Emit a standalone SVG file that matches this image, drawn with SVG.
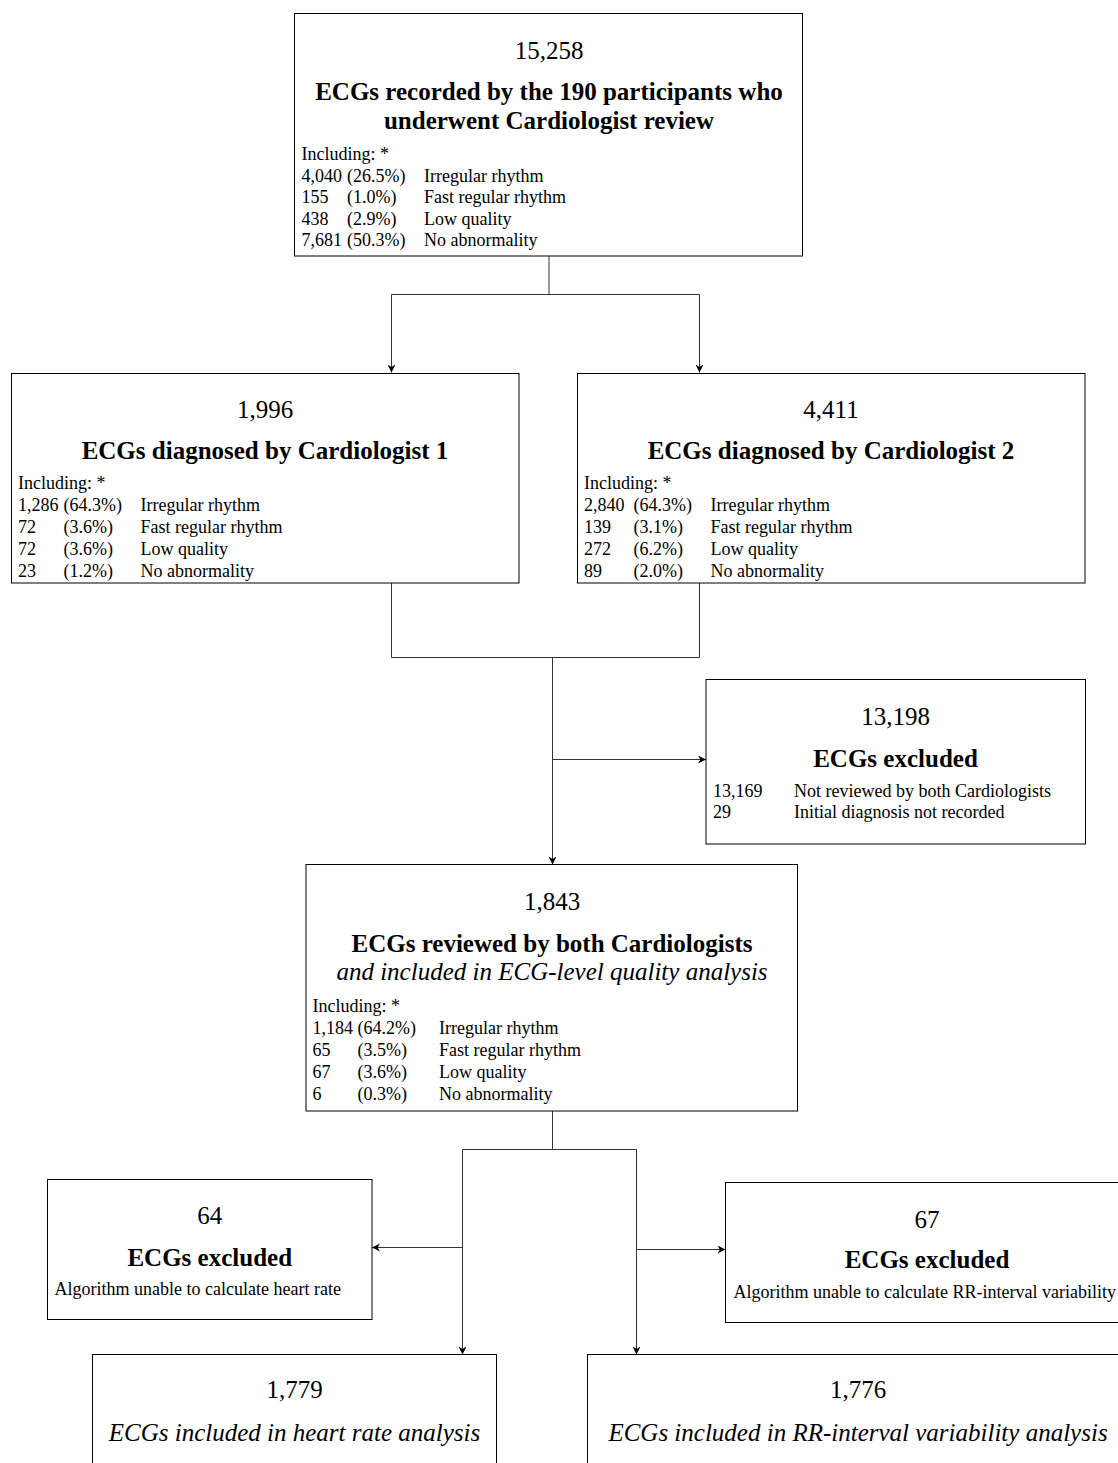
<svg xmlns="http://www.w3.org/2000/svg" width="1118" height="1463" viewBox="0 0 1118 1463">
<style>
text{font-family:"Liberation Serif","Times New Roman",serif;fill:#000}
.num{font-size:25px;text-anchor:middle}
.ttl{font-size:25px;font-weight:bold;text-anchor:middle}
.it{font-size:25px;font-style:italic;text-anchor:middle}
.b{font-size:18px}
.box{fill:#fff;stroke:#000;stroke-width:1}
.con{fill:none;stroke:#333;stroke-width:1}
</style>
<defs>
<marker id="ah" viewBox="0 0 10 10" refX="10" refY="5" markerWidth="8" markerHeight="8" markerUnits="userSpaceOnUse" orient="auto">
<path d="M0,0 L10,5 L0,10 L3,5 z" fill="#000"/>
</marker>
</defs>
<g id="connectors">
<path class="con" d="M549,256 V294.5"/>
<path class="con" d="M549,294.5 H391.5 V372.5" marker-end="url(#ah)"/>
<path class="con" d="M549,294.5 H699.5 V372.5" marker-end="url(#ah)"/>
<path class="con" d="M391.5,583 V657.5 H699.5 V583"/>
<path class="con" d="M552.5,657.5 V864.5" marker-end="url(#ah)"/>
<path class="con" d="M552.5,759.5 H706" marker-end="url(#ah)"/>
<path class="con" d="M552.5,1111 V1149.5"/>
<path class="con" d="M552.5,1149.5 H462.5 V1354.5" marker-end="url(#ah)"/>
<path class="con" d="M552.5,1149.5 H636.5 V1354.5" marker-end="url(#ah)"/>
<path class="con" d="M462.5,1247.5 H372" marker-end="url(#ah)"/>
<path class="con" d="M636.5,1249.5 H725.5" marker-end="url(#ah)"/>
</g>
<g id="n_total">
<rect class="box" x="294.5" y="13.5" width="508" height="242.5"/>
<text class="num" x="549" y="58.5">15,258</text>
<text class="ttl" x="549" y="100">ECGs recorded by the 190 participants who</text>
<text class="ttl" x="549" y="128.5">underwent Cardiologist review</text>
<text class="b" x="301.5" y="160">Including: *</text>
<text class="b" x="301.5" y="181.5">4,040</text><text class="b" x="347" y="181.5">(26.5%)</text><text class="b" x="424" y="181.5">Irregular rhythm</text>
<text class="b" x="301.5" y="203">155</text><text class="b" x="347" y="203">(1.0%)</text><text class="b" x="424" y="203">Fast regular rhythm</text>
<text class="b" x="301.5" y="224.5">438</text><text class="b" x="347" y="224.5">(2.9%)</text><text class="b" x="424" y="224.5">Low quality</text>
<text class="b" x="301.5" y="246">7,681</text><text class="b" x="347" y="246">(50.3%)</text><text class="b" x="424" y="246">No abnormality</text>
</g>
<g id="n_card1">
<rect class="box" x="11.5" y="373.5" width="507.5" height="209.5"/>
<text class="num" x="265" y="417.5">1,996</text>
<text class="ttl" x="265" y="459">ECGs diagnosed by Cardiologist 1</text>
<text class="b" x="18" y="488.5">Including: *</text>
<text class="b" x="18" y="511">1,286</text><text class="b" x="63.5" y="511">(64.3%)</text><text class="b" x="140.5" y="511">Irregular rhythm</text>
<text class="b" x="18" y="533">72</text><text class="b" x="63.5" y="533">(3.6%)</text><text class="b" x="140.5" y="533">Fast regular rhythm</text>
<text class="b" x="18" y="555">72</text><text class="b" x="63.5" y="555">(3.6%)</text><text class="b" x="140.5" y="555">Low quality</text>
<text class="b" x="18" y="577">23</text><text class="b" x="63.5" y="577">(1.2%)</text><text class="b" x="140.5" y="577">No abnormality</text>
</g>
<g id="n_card2">
<rect class="box" x="577.5" y="373.5" width="507.5" height="209.5"/>
<text class="num" x="831" y="417.5">4,411</text>
<text class="ttl" x="831" y="459">ECGs diagnosed by Cardiologist 2</text>
<text class="b" x="584" y="488.5">Including: *</text>
<text class="b" x="584" y="511">2,840</text><text class="b" x="633.5" y="511">(64.3%)</text><text class="b" x="710.5" y="511">Irregular rhythm</text>
<text class="b" x="584" y="533">139</text><text class="b" x="633.5" y="533">(3.1%)</text><text class="b" x="710.5" y="533">Fast regular rhythm</text>
<text class="b" x="584" y="555">272</text><text class="b" x="633.5" y="555">(6.2%)</text><text class="b" x="710.5" y="555">Low quality</text>
<text class="b" x="584" y="577">89</text><text class="b" x="633.5" y="577">(2.0%)</text><text class="b" x="710.5" y="577">No abnormality</text>
</g>
<g id="n_excl1">
<rect class="box" x="706" y="679.5" width="379.5" height="164.5"/>
<text class="num" x="895.5" y="725">13,198</text>
<text class="ttl" x="895.5" y="766.5">ECGs excluded</text>
<text class="b" x="713" y="797">13,169</text><text class="b" x="794" y="797">Not reviewed by both Cardiologists</text>
<text class="b" x="713" y="818">29</text><text class="b" x="794" y="818">Initial diagnosis not recorded</text>
</g>
<g id="n_both">
<rect class="box" x="306" y="864.5" width="491.5" height="246.5"/>
<text class="num" x="552" y="910">1,843</text>
<text class="ttl" x="552" y="951.5">ECGs reviewed by both Cardiologists</text>
<text class="it" x="552" y="980">and included in ECG-level quality analysis</text>
<text class="b" x="312.5" y="1011.5">Including: *</text>
<text class="b" x="312.5" y="1034">1,184</text><text class="b" x="357.5" y="1034">(64.2%)</text><text class="b" x="439" y="1034">Irregular rhythm</text>
<text class="b" x="312.5" y="1055.5">65</text><text class="b" x="357.5" y="1055.5">(3.5%)</text><text class="b" x="439" y="1055.5">Fast regular rhythm</text>
<text class="b" x="312.5" y="1077.5">67</text><text class="b" x="357.5" y="1077.5">(3.6%)</text><text class="b" x="439" y="1077.5">Low quality</text>
<text class="b" x="312.5" y="1099.5">6</text><text class="b" x="357.5" y="1099.5">(0.3%)</text><text class="b" x="439" y="1099.5">No abnormality</text>
</g>
<g id="n_excl64">
<rect class="box" x="47.5" y="1179.5" width="324.5" height="140"/>
<text class="num" x="209.75" y="1224">64</text>
<text class="ttl" x="209.75" y="1265.5">ECGs excluded</text>
<text class="b" x="54.5" y="1295">Algorithm unable to calculate heart rate</text>
</g>
<g id="n_excl67">
<rect class="box" x="725.5" y="1182.5" width="403" height="140"/>
<text class="num" x="927" y="1228">67</text>
<text class="ttl" x="927" y="1268">ECGs excluded</text>
<text class="b" x="733.5" y="1298">Algorithm unable to calculate RR-interval variability</text>
</g>
<g id="n_hr">
<rect class="box" x="92.5" y="1354.5" width="404" height="130"/>
<text class="num" x="294.5" y="1398">1,779</text>
<text class="it" x="294.5" y="1441">ECGs included in heart rate analysis</text>
</g>
<g id="n_rr">
<rect class="box" x="587.5" y="1354.5" width="541" height="130"/>
<text class="num" x="858" y="1398">1,776</text>
<text class="it" x="858" y="1441">ECGs included in RR-interval variability analysis</text>
</g>
</svg>
